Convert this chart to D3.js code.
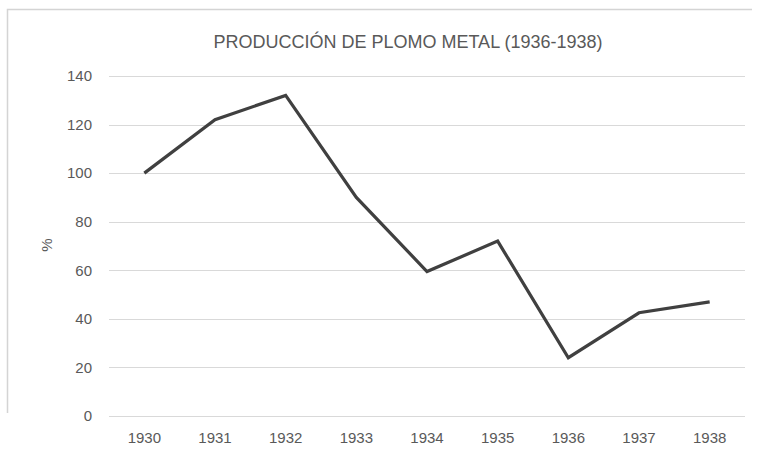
<!DOCTYPE html>
<html>
<head>
<meta charset="utf-8">
<style>
  body { margin: 0; background: #fff; }
  svg text { font-family: "Liberation Sans", Arial, sans-serif; fill: #595959; }
</style>
</head>
<body>
<div id="chart"></div>
<script src="https://d3js.org/d3.v7.min.js"></script>
<script>
// data
var years = ["1930", "1931", "1932", "1933", "1934", "1935", "1936", "1937", "1938"];
var values = [100, 122, 132, 90, 59.5, 72, 24, 42.5, 47];
var yTicks = [0, 20, 40, 60, 80, 100, 120, 140];

var W = 758, H = 458;
var margin = {top: 76, right: 13, bottom: 42, left: 109};
var width = W - margin.left - margin.right;
var height = H - margin.top - margin.bottom;

var svg = d3.select("#chart").append("svg")
    .attr("width", W)
    .attr("height", H);

// faint chart border, like the scanned excel frame
svg.append("path")
    .attr("d", "M7.5,413 V9.5 H752")
    .attr("fill", "none")
    .attr("stroke", "#d4d4d4")
    .attr("stroke-width", 1.5);

var g = svg.append("g").attr("transform", "translate(" + margin.left + "," + margin.top + ")");

var x = d3.scaleBand().domain(years).range([0, width]);
var y = d3.scaleLinear().domain([0, 140]).range([height, 0]);

// gridlines
g.append("g")
    .selectAll("line")
    .data(yTicks)
    .enter().append("line")
      .attr("x1", 0)
      .attr("x2", width)
      .attr("y1", function(d) { return Math.round(y(d)) + 0.5; })
      .attr("y2", function(d) { return Math.round(y(d)) + 0.5; })
      .attr("stroke", "#d9d9d9")
      .attr("stroke-width", 1);

// y axis labels
var yAxis = g.append("g")
    .call(d3.axisLeft(y).tickValues(yTicks).tickSize(0).tickPadding(17));
yAxis.select(".domain").remove();
yAxis.selectAll("text").style("font-size", "15px").attr("fill", "#595959");

// x axis labels
var xAxis = g.append("g")
    .attr("transform", "translate(0," + height + ")")
    .call(d3.axisBottom(x).tickSize(0).tickPadding(16));
xAxis.select(".domain").remove();
xAxis.selectAll("text").style("font-size", "15px").attr("fill", "#595959");

// the line
var line = d3.line()
    .x(function(d, i) { return x(years[i]) + x.bandwidth() / 2; })
    .y(function(d) { return y(d); });

g.append("path")
    .datum(values)
    .attr("fill", "none")
    .attr("stroke", "#404040")
    .attr("stroke-width", 3.2)
    .attr("stroke-linejoin", "miter")
    .attr("d", line);

// title
svg.append("text")
    .attr("x", 408)
    .attr("y", 48)
    .attr("text-anchor", "middle")
    .style("font-size", "18px")
    .text("PRODUCCIÓN DE PLOMO METAL (1936-1938)");

// y axis title
svg.append("text")
    .attr("transform", "translate(52,245) rotate(-90)")
    .attr("text-anchor", "middle")
    .style("font-size", "15px")
    .text("%");
</script>
</body>
</html>
